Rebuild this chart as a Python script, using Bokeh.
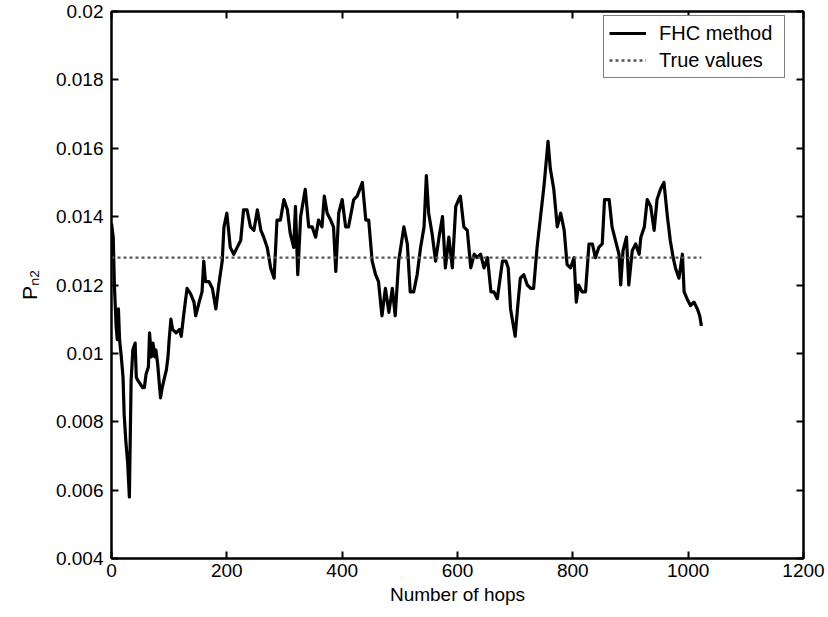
from bokeh.plotting import figure
from bokeh.models import Range1d, LinearAxis, FixedTicker, Legend, LegendItem
from bokeh.embed import file_html
from bokeh.resources import INLINE

# ---- data ----
hops = [0, 3, 5, 8, 10, 12, 14, 17, 20, 22, 25, 28, 31, 34, 37, 41, 43, 46, 50, 54,
        57, 60, 64, 66, 69, 72, 75, 77, 80, 83, 85, 88, 92, 95, 98, 100, 103, 106, 112, 118,
        121, 125, 131, 137, 143, 146, 152, 157, 160, 163, 169, 175, 181, 186, 192, 195, 200, 206, 212, 218,
        224, 229, 235, 241, 247, 253, 259, 264, 270, 276, 282, 287, 293, 299, 305, 310, 316, 319, 323, 328,
        336, 342, 348, 354, 359, 365, 369, 374, 380, 385, 389, 394, 400, 406, 411, 420, 426, 435, 441, 446,
        452, 458, 463, 469, 475, 481, 487, 492, 498, 507, 513, 518, 524, 530, 536, 542, 546, 550, 556, 562,
        568, 574, 579, 585, 591, 597, 602, 605, 611, 617, 623, 629, 634, 640, 646, 652, 658, 663, 669, 678,
        684, 688, 692, 700, 704, 709, 715, 721, 727, 732, 738, 744, 750, 757, 761, 767, 773, 779, 785, 790,
        796, 802, 806, 810, 816, 822, 828, 834, 839, 845, 851, 855, 863, 868, 874, 880, 883, 887, 893, 897,
        903, 909, 915, 918, 924, 929, 935, 941, 946, 952, 958, 964, 969, 974, 978, 984, 990, 993, 998, 1004,
        1010, 1016, 1020, 1023]
pn2 = [0.0138, 0.0134, 0.0120, 0.0108, 0.0104, 0.0113, 0.0104, 0.0099, 0.0093, 0.0082,
       0.0074, 0.0068, 0.0058, 0.0092, 0.0101, 0.0103, 0.0093, 0.0092, 0.0091, 0.0090,
       0.0090, 0.0094, 0.0096, 0.0106, 0.0099, 0.0103, 0.0099, 0.0101, 0.0097, 0.0091,
       0.0087, 0.0090, 0.0093, 0.0095, 0.0099, 0.0104, 0.0110, 0.0107, 0.0106, 0.0107,
       0.0105, 0.0111, 0.0119, 0.01175, 0.0115, 0.0111, 0.0115, 0.0118, 0.0127, 0.0121,
       0.0121, 0.0119, 0.0113, 0.0120, 0.0127, 0.0137, 0.0141, 0.0131, 0.0129, 0.0131,
       0.0133, 0.0142, 0.0142, 0.0137, 0.0136, 0.0142, 0.0136, 0.0134, 0.0131, 0.0125,
       0.0122, 0.0139, 0.0139, 0.0145, 0.0142, 0.0135, 0.0131, 0.0143, 0.0123, 0.0140,
       0.0148, 0.0137, 0.0137, 0.0134, 0.0139, 0.0137, 0.0146, 0.0141, 0.0139, 0.0137,
       0.0124, 0.0141, 0.0145, 0.0137, 0.0137, 0.0145, 0.0146, 0.0150, 0.0139, 0.0139,
       0.0127, 0.0123, 0.0121, 0.0111, 0.0119, 0.0112, 0.0119, 0.0111, 0.0127, 0.0137,
       0.0132, 0.0118, 0.0118, 0.0123, 0.0131, 0.0137, 0.0152, 0.0141, 0.0135, 0.0127,
       0.0134, 0.0140, 0.0125, 0.0134, 0.0125, 0.0143, 0.0145, 0.0146, 0.0137, 0.0136,
       0.0125, 0.0129, 0.0128, 0.0129, 0.0125, 0.0128, 0.0118, 0.0118, 0.0116, 0.0127,
       0.0127, 0.0125, 0.0113, 0.0105, 0.0113, 0.0122, 0.0123, 0.0120, 0.0119, 0.0119,
       0.0131, 0.0140, 0.0149, 0.0162, 0.0154, 0.0148, 0.0137, 0.0141, 0.0136, 0.0126,
       0.0125, 0.0128, 0.0115, 0.0120, 0.0118, 0.0118, 0.0132, 0.0132, 0.0128, 0.0131,
       0.0132, 0.0145, 0.0145, 0.0137, 0.0133, 0.0129, 0.0120, 0.0130, 0.0134, 0.0120,
       0.0130, 0.0132, 0.0129, 0.0134, 0.0137, 0.0145, 0.0143, 0.0136, 0.0145, 0.0148,
       0.0150, 0.0140, 0.0133, 0.0128, 0.0125, 0.0122, 0.0129, 0.0118, 0.0116, 0.0114,
       0.0115, 0.0113, 0.0111, 0.0108]
true_hops = [0, 1023]
true_vals = [0.0128, 0.0128]

x_ticks = [0, 200, 400, 600, 800, 1000, 1200]
y_ticks = [0.004, 0.006, 0.008, 0.01, 0.012, 0.014, 0.016, 0.018, 0.02]
y_tick_labels = ["0.004", "0.006", "0.008", "0.01", "0.012", "0.014", "0.016", "0.018", "0.02"]

FONT = "Liberation Sans"
FS = "19px"

p = figure(width=828, height=617, output_backend="svg", toolbar_location=None,
           x_range=Range1d(0, 1200), y_range=Range1d(0.004, 0.02),
           min_border_left=111, min_border_right=25, min_border_top=11, min_border_bottom=59)
p.background_fill_color = "white"
p.border_fill_color = "white"
p.outline_line_color = "black"
p.outline_line_width = 2
p.xgrid.visible = False
p.ygrid.visible = False

r1 = p.line(hops, pn2, line_color="black", line_width=3.2, line_join="round")
r2 = p.line(true_hops, true_vals, line_color="#555555", line_width=2.4, line_dash="3 3")


def base_style(ax):
    ax.axis_line_color = "black"
    ax.axis_line_width = 2
    ax.major_tick_in = 7
    ax.major_tick_out = 0
    ax.minor_tick_in = 0
    ax.minor_tick_out = 0
    ax.major_tick_line_width = 2
    ax.major_tick_line_color = "black"


xa = p.xaxis[0]
xa.ticker = FixedTicker(ticks=x_ticks)
ya = p.yaxis[0]
ya.ticker = FixedTicker(ticks=y_ticks)
ya.major_label_overrides = {t: l for t, l in zip(y_ticks, y_tick_labels)}
for ax in (xa, ya):
    base_style(ax)
    ax.major_label_text_font = FONT
    ax.major_label_text_font_size = FS
    ax.major_label_text_color = "black"
    ax.axis_label_text_font = FONT
    ax.axis_label_text_font_style = "normal"
    ax.axis_label_text_color = "black"
xa.major_label_standoff = 5
ya.major_label_standoff = 8
xa.axis_label = "Number of hops"
xa.axis_label_text_font_size = FS
xa.axis_label_standoff = 4
ya.axis_label = "P\u2099\u2082"
ya.axis_label_text_font_size = "21px"
ya.axis_label_standoff = 12

top = LinearAxis(ticker=FixedTicker(ticks=x_ticks))
right = LinearAxis(ticker=FixedTicker(ticks=y_ticks))
for ax in (top, right):
    base_style(ax)
    ax.major_label_text_font_size = "1px"
    ax.major_label_text_color = None
    ax.major_label_standoff = 0
p.add_layout(top, "above")
p.add_layout(right, "right")

legend = Legend(items=[LegendItem(label="FHC method", renderers=[r1]),
                       LegendItem(label="True values", renderers=[r2])],
                location=(492, 480), orientation="vertical")
legend.margin = 0
legend.padding = 5
legend.spacing = 3
legend.glyph_width = 37
legend.glyph_height = 24
legend.label_height = 24
legend.label_width = 120
legend.label_standoff = 13
legend.label_text_font = FONT
legend.label_text_font_size = "20px"
legend.label_text_color = "black"
legend.border_line_color = "black"
legend.border_line_width = 1.5
legend.background_fill_color = "white"
legend.background_fill_alpha = 1
p.add_layout(legend)

open("out.html", "w").write(file_html(p, INLINE))
